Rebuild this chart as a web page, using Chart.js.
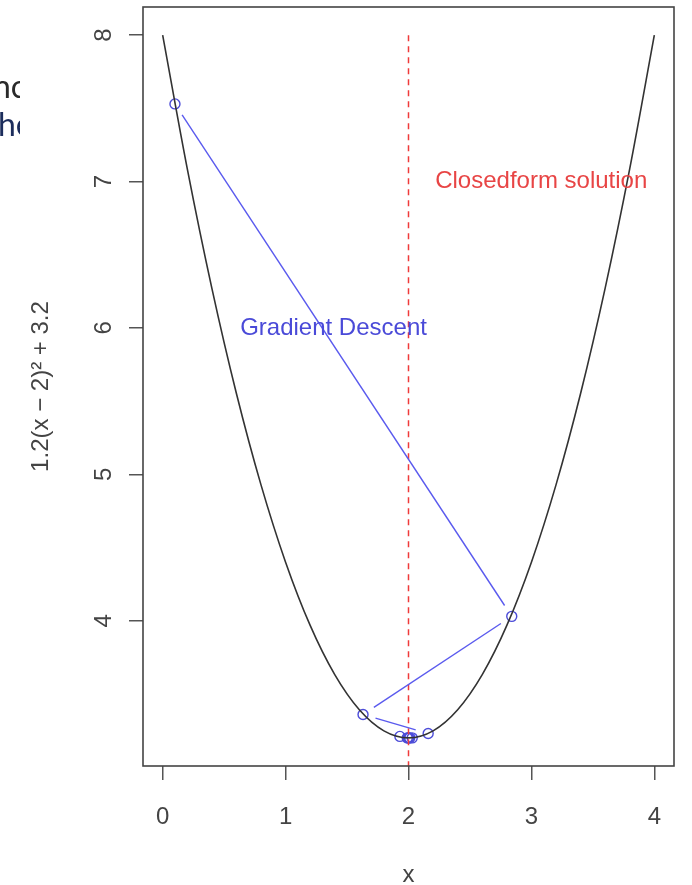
<!DOCTYPE html>
<html>
<head>
<meta charset="utf-8">
<script src="https://cdn.jsdelivr.net/npm/chart.js@4"></script>
<style>
  html, body { margin: 0; padding: 0; background: #ffffff; }
  #wrap { position: relative; width: 692px; height: 885px; }
  canvas { display: block; }
  .frag { position: absolute; left: 0; width: 20px; overflow: hidden; white-space: nowrap;
          font-family: Lato, "Open Sans", sans-serif; font-size: 32px; line-height: 32px; }
  .frag span { position: relative; }
</style>
</head>
<body>
<div id="wrap">
  <canvas id="c" width="692" height="885"></canvas>
  <div class="frag" style="top:70px;color:#2a2a2a;"><span style="left:-7px;">nc</span></div>
  <div class="frag" style="top:108px;color:#1c2d5c;"><span style="left:-2px;">he</span></div>
</div>
<script>
// ---- data ----
const curveX = [0, 0.2, 0.4, 0.6, 0.8, 1.0, 1.2, 1.4, 1.6, 1.8, 2.0, 2.2, 2.4, 2.6, 2.8, 3.0, 3.2, 3.4, 3.6, 3.8, 4.0];
const curveY = [8.0, 7.088, 6.272, 5.552, 4.928, 4.4, 3.968, 3.632, 3.392, 3.248, 3.2, 3.248, 3.392, 3.632, 3.968, 4.4, 4.928, 5.552, 6.272, 7.088, 8.0];
const descentX = [0.1, 2.84, 1.63, 2.16, 1.93, 2.03, 1.99, 2.01, 2.00, 2.00];
const descentY = [7.53, 4.03, 3.36, 3.23, 3.21, 3.20, 3.20, 3.20, 3.20, 3.20];
const solutionX = [2, 2];
const solutionY = [3.0, 8.0];
const xTicks = [0, 1, 2, 3, 4];
const yTicks = [4, 5, 6, 7, 8];
const xTitle = 'x';
const yTitle = '1.2(x \u2212 2)\u00B2 + 3.2';
const noteLabels = ['Gradient Descent', 'Closedform solution'];
const noteX = [1.39, 3.08];
const noteY = [6.0, 7.0];
const noteColors = ['#4a4ad8', '#e84545'];

const FONT = '"Liberation Sans", Arial, sans-serif';

const descentSegments = {
  id: 'descentSegments',
  afterDatasetsDraw(chart) {
    const meta = chart.getDatasetMeta(2);
    const ctx = chart.ctx;
    const shrink = 13;
    ctx.save();
    ctx.strokeStyle = '#5a5aee';
    ctx.lineWidth = 1.4;
    for (let i = 0; i < meta.data.length - 1; i++) {
      const a = meta.data[i], b = meta.data[i + 1];
      const dx = b.x - a.x, dy = b.y - a.y;
      const len = Math.hypot(dx, dy);
      if (len <= 2 * shrink + 1) continue;
      const ux = dx / len, uy = dy / len;
      ctx.beginPath();
      ctx.moveTo(a.x + ux * shrink, a.y + uy * shrink);
      ctx.lineTo(b.x - ux * shrink, b.y - uy * shrink);
      ctx.stroke();
    }
    ctx.restore();
  }
};

const boxAndNotes = {
  id: 'boxAndNotes',
  afterDraw(chart) {
    const ctx = chart.ctx;
    const a = chart.chartArea;
    ctx.save();
    ctx.strokeStyle = '#444';
    ctx.lineWidth = 1.6;
    ctx.strokeRect(a.left, a.top, a.right - a.left, a.bottom - a.top);
    ctx.font = '24px ' + FONT;
    ctx.textAlign = 'center';
    ctx.textBaseline = 'middle';
    const xs = chart.scales.x, ys = chart.scales.y;
    for (let i = 0; i < noteLabels.length; i++) {
      ctx.fillStyle = noteColors[i];
      ctx.fillText(noteLabels[i], xs.getPixelForValue(noteX[i]), ys.getPixelForValue(noteY[i]));
    }
    ctx.restore();
  }
};

const toPts = (xs, ys) => xs.map((x, i) => ({ x: x, y: ys[i] }));

new Chart(document.getElementById('c'), {
  type: 'scatter',
  data: {
    datasets: [
      {
        type: 'line',
        data: toPts(curveX, curveY),
        borderColor: '#333333',
        borderWidth: 1.6,
        pointRadius: 0,
        cubicInterpolationMode: 'monotone',
        fill: false
      },
      {
        type: 'line',
        data: toPts(solutionX, solutionY),
        borderColor: '#f03a3a',
        borderWidth: 1.5,
        borderDash: [6, 5],
        pointRadius: 0,
        fill: false
      },
      {
        type: 'scatter',
        data: toPts(descentX, descentY),
        pointRadius: 5,
        pointBorderColor: '#4c4cd8',
        pointBackgroundColor: 'rgba(0,0,0,0)',
        pointBorderWidth: 1.4,
        showLine: false
      }
    ]
  },
  options: {
    responsive: false,
    animation: false,
    devicePixelRatio: 1,
    clip: true,
    layout: { padding: { top: 7, right: 18, left: 0, bottom: 0 } },
    plugins: { legend: { display: false }, tooltip: { enabled: false } },
    scales: {
      x: {
        type: 'linear',
        min: -0.16,
        max: 4.16,
        afterBuildTicks: s => { s.ticks = xTicks.map(v => ({ value: v })); },
        afterFit: s => { s.height = 119; s.paddingLeft = 0; s.paddingRight = 0; },
        border: { display: false },
        grid: { display: true, drawOnChartArea: false, drawTicks: true, tickLength: 14, color: '#555', lineWidth: 1.5 },
        ticks: { color: '#444', font: { size: 24, family: FONT }, padding: 23, maxRotation: 0, autoSkip: false },
        title: { display: true, text: xTitle, color: '#444', font: { size: 24, family: FONT, lineHeight: 0.8 }, padding: { top: 0, bottom: 0 } }
      },
      y: {
        type: 'linear',
        min: 3.008,
        max: 8.192,
        afterBuildTicks: s => { s.ticks = yTicks.map(v => ({ value: v })); },
        afterFit: s => { s.width = 143; s.paddingTop = 0; s.paddingBottom = 0; },
        border: { display: false },
        grid: { display: true, drawOnChartArea: false, drawTicks: true, tickLength: 14, color: '#555', lineWidth: 1.5 },
        ticks: { color: '#444', font: { size: 24, family: FONT }, padding: 18, minRotation: 90, maxRotation: 90, crossAlign: 'center', autoSkip: false },
        title: { display: true, text: yTitle, color: '#444', font: { size: 24, family: FONT }, padding: { top: 27, bottom: 0 } }
      }
    }
  },
  plugins: [descentSegments, boxAndNotes]
});
</script>
</body>
</html>
